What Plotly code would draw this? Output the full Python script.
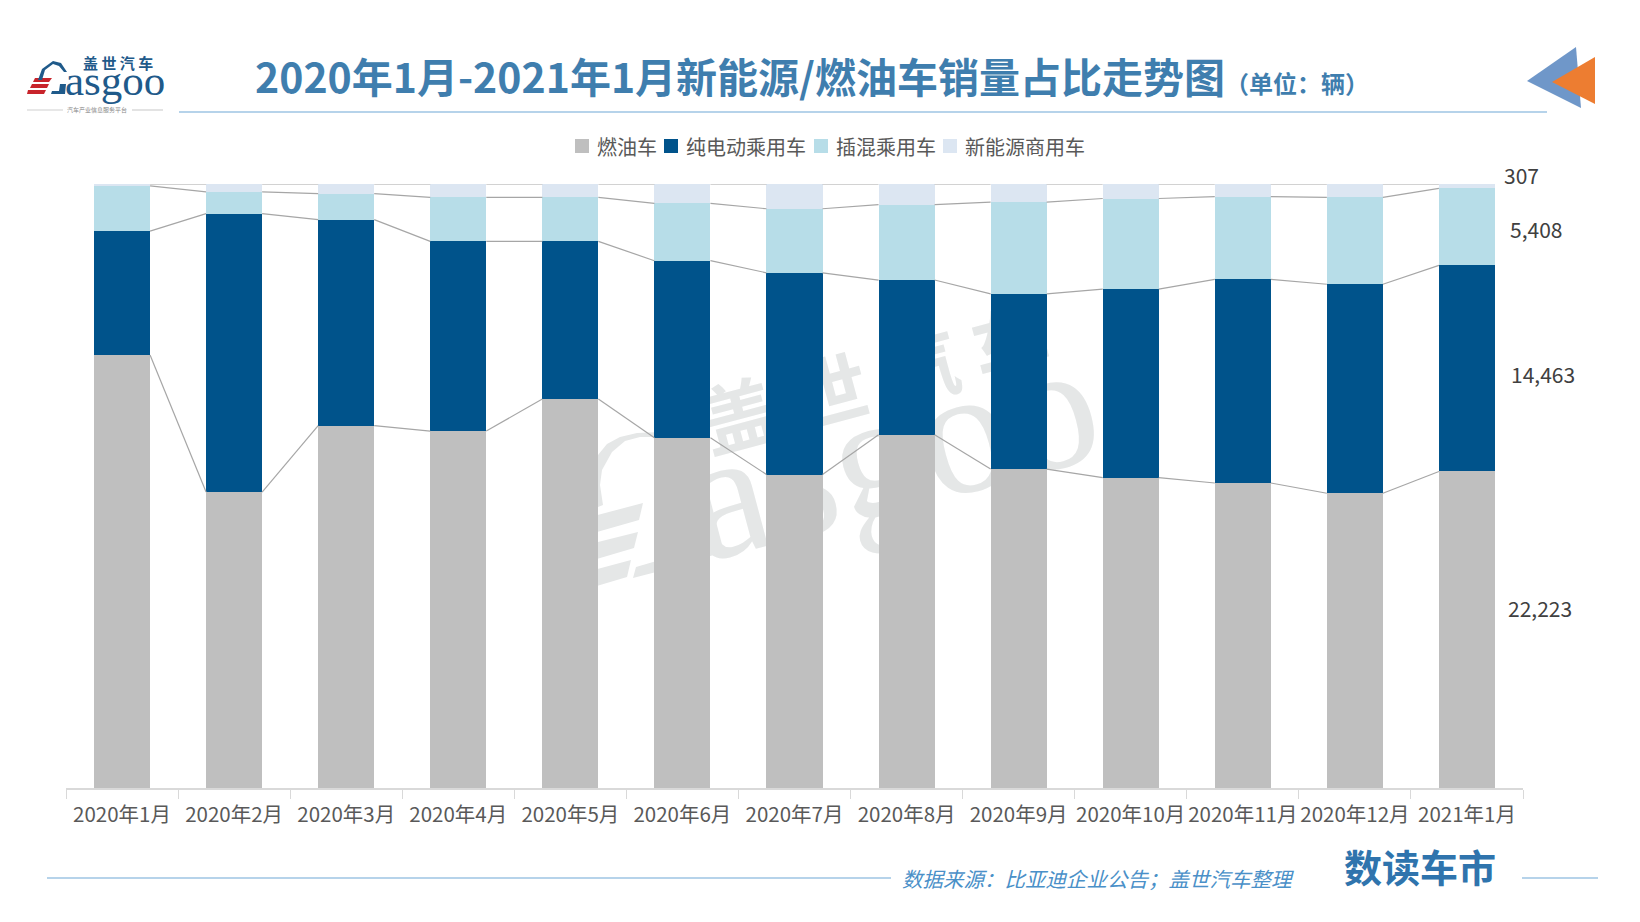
import numpy as np
import plotly.graph_objects as go

months = ['2020年1月', '2020年2月', '2020年3月', '2020年4月', '2020年5月', '2020年6月', '2020年7月',
          '2020年8月', '2020年9月', '2020年10月', '2020年11月', '2020年12月', '2021年1月']

# share of monthly sales, percent
fuel = [71.7, 49.0, 60.0, 59.1, 64.4, 58.0, 51.9, 58.5, 52.8, 51.4, 50.5, 48.8, 52.41]
bev = [20.5, 46.1, 34.1, 31.4, 26.1, 29.3, 33.4, 25.6, 29.0, 31.2, 33.7, 34.6, 34.12]
phev = [7.5, 3.6, 4.3, 7.3, 7.3, 9.5, 10.6, 12.5, 15.2, 15.0, 13.7, 14.4, 12.75]
commercial = [0.3, 1.3, 1.6, 2.2, 2.2, 3.2, 4.1, 3.4, 3.0, 2.4, 2.1, 2.2, 0.72]

series_names = ['燃油车', '纯电动乘用车', '插混乘用车', '新能源商用车']
series_colors = ['#BFBFBF', '#00538B', '#B7DDE8', '#DCE6F2']
last_month_counts = [22223, 14463, 5408, 307]

FONT = 'Noto Sans CJK SC'
SERIF = 'Liberation Serif'
# the page body adds 8px around the figure, all positions below are page pixels
PAGE = 8
WIDTH, HEIGHT = 1640 - 2 * PAGE, 922 - 2 * PAGE
PLOT_L, PLOT_R, PLOT_T, PLOT_B = 66, 1523, 184, 788
BAR_GAP = 0.5
WATERMARK = '#E5E7E7'
LOGO_BLUE = '#1F5A8A'
LOGO_RED = '#C8242B'


def px(x):
    return (x - PLOT_L) / (PLOT_R - PLOT_L)


def py(y):
    return (PLOT_B - y) / (PLOT_B - PLOT_T)


def note(text, x, y, size, color, anchor='center', **kw):
    return dict(text=text, x=px(x), y=py(y), xref='paper', yref='paper', xanchor=anchor, yanchor='middle',
                showarrow=False, font=dict(family=kw.pop('family', FONT), size=size, color=color, **kw))


def poly(points, color, layer='above'):
    path = 'M' + ' L'.join(f'{px(a)},{py(b)}' for a, b in points) + ' Z'
    return dict(type='path', path=path, xref='paper', yref='paper', fillcolor=color, line_width=0, layer=layer)


def rule(x0, x1, y, color='#6FA8D6'):
    return dict(type='line', x0=px(x0), x1=px(x1), y0=py(y), y1=py(y), xref='paper', yref='paper',
                line=dict(color=color, width=1.2))


def mark_text(text, cx, cy, size, family, weight='normal'):
    # label on an invisible box, so that it stays below the bars
    return dict(type='rect', x0=px(cx - 300), x1=px(cx + 300), y0=py(cy + 150), y1=py(cy - 150),
                xref='paper', yref='paper', layer='below', line_width=0, fillcolor='rgba(0,0,0,0)',
                label=dict(text=text, textangle=-15, textposition='middle center',
                           font=dict(family=family, size=size, color=WATERMARK, weight=weight)))


fig = go.Figure()
for name, values, color in zip(series_names, [fuel, bev, phev, commercial], series_colors):
    fig.add_trace(go.Bar(x=months, y=values, name=name, marker_color=color, marker_line_width=0, showlegend=False))

# series lines between neighbouring bars
stack = np.cumsum([fuel, bev, phev, commercial], axis=0)
half = (1 - BAR_GAP) / 2
for level in stack:
    xs, ys = [], []
    for i in range(len(months) - 1):
        xs += [i + half, i + 1 - half, None]
        ys += [level[i], level[i + 1], None]
    fig.add_trace(go.Scatter(x=xs, y=ys, xaxis='x2', mode='lines', showlegend=False, cliponaxis=False,
                             line=dict(color='#A6A6A6', width=1.2), hoverinfo='skip'))

annotations = [
    note(f'{last_month_counts[0]:,}', 1540, 608, 21, '#404040'),
    note(f'{last_month_counts[1]:,}', 1543, 374, 21, '#404040'),
    note(f'{last_month_counts[2]:,}', 1536, 229, 21, '#404040'),
    note(f'{last_month_counts[3]:,}', 1521, 175, 21, '#404040'),
    note('数据来源：比亚迪企业公告；盖世汽车整理', 1098, 878, 20.5, '#4A90C8', style='italic'),
    note('数读车市', 1420, 866, 38, '#2F74AD', weight='bold'),
    note('asgoo', 115, 80, 43, LOGO_BLUE, family=SERIF),
    note('盖\u00a0世\u00a0汽\u00a0车', 118, 63, 15, LOGO_BLUE, weight='bold'),
    note('汽车产业信息服务平台', 97, 110, 6, '#888888'),
]

# hand made legend, the built in one spaces its items wider than the original
legend_swatch_x = [575, 664, 814, 943]
legend_text_x = [595, 684, 834, 963]
for name, x in zip(series_names, legend_text_x):
    annotations.append(note(name, x, 146, 20, '#595959', anchor='left'))

shapes = [
    rule(179, 1547, 112),
    rule(47, 891, 878),
    rule(1522, 1598, 878),
    rule(27, 63, 110, '#D0D0D0'),
    rule(132, 163, 110, '#D0D0D0'),
    # corner arrows
    poly([(1527, 81), (1576, 47), (1581, 108)], '#6F97C9'),
    poly([(1552, 82), (1595, 57), (1595, 104)], '#ED7D31'),
    # small logo: stripes and the G
    poly([(35, 78), (52, 78), (49, 82), (33, 82)], LOGO_RED),
    poly([(32, 84), (49, 84), (47, 88), (30, 88)], LOGO_RED),
    poly([(28, 90), (46, 90), (44, 94), (27, 94)], LOGO_RED),
    poly([(38, 80), (42, 69), (53, 61), (61, 63), (67, 72), (64, 72), (59, 66), (53, 64), (45, 70), (42, 80)], LOGO_BLUE),
    poly([(60, 84), (66, 84), (65, 94), (51, 94), (52, 91), (59, 91)], LOGO_BLUE),
    # watermark
    mark_text('asgoo', 885, 431, 180, SERIF),
    mark_text('盖\u00a0世\u00a0汽\u00a0车', 877, 387, 76, FONT, 'bold'),
    poly([(590, 470), (598, 455), (607, 444), (620, 437), (637, 433), (660, 432), (660, 437), (640, 437), (625, 441),
          (612, 452), (602, 470), (600, 485), (603, 505), (598, 507), (590, 510)], WATERMARK, 'below'),
    poly([(724, 552), (705, 480), (690, 480), (690, 562)], WATERMARK, 'below'),
    poly([(643, 503), (639, 520), (590, 534), (590, 517)], WATERMARK, 'below'),
    poly([(638, 532), (634, 548), (590, 561), (590, 544)], WATERMARK, 'below'),
    poly([(631, 560), (627, 577), (590, 588), (590, 571)], WATERMARK, 'below'),
    poly([(636, 567), (660, 560), (660, 571), (633, 578)], WATERMARK, 'below'),
]
for color, x in zip(series_colors, legend_swatch_x):
    shapes.append(dict(type='rect', x0=px(x), x1=px(x + 14), y0=py(153), y1=py(139), xref='paper', yref='paper',
                       fillcolor=color, line_width=0))

fig.update_layout(
    width=WIDTH, height=HEIGHT,
    margin=dict(l=PLOT_L - PAGE, r=WIDTH + PAGE - PLOT_R, t=PLOT_T - PAGE, b=HEIGHT + PAGE - PLOT_B),
    paper_bgcolor='white', plot_bgcolor='rgba(0,0,0,0)',
    barmode='stack', bargap=BAR_GAP,
    font=dict(family=FONT, color='#595959'),
    title=dict(text="2020年1月-2021年1月新能源/燃油车销量占比走势图"
                    "<span style='font-size:24px'>（单位：辆）</span>",
               x=(255 - PAGE) / WIDTH, xanchor='left', xref='container',
               y=1 - (79 - PAGE) / HEIGHT, yanchor='middle', yref='container',
               font=dict(family=FONT, size=41, color='#3F7EAE', weight='bold')),
    showlegend=False,
    xaxis=dict(type='category', categoryarray=months, tickson='boundaries', ticks='outside', ticklen=9, tickwidth=1,
               tickcolor='#D9D9D9', linecolor='#D9D9D9', linewidth=2, showline=True, showgrid=False,
               tickfont=dict(size=20.5, color='#595959'), tickangle=0, ticklabelstandoff=7),
    xaxis2=dict(overlaying='x', range=[-0.5, len(months) - 0.5], visible=False),
    yaxis=dict(range=[0, 100], visible=False),
    annotations=annotations,
    shapes=shapes,
)

fig.write_html("out.html")
